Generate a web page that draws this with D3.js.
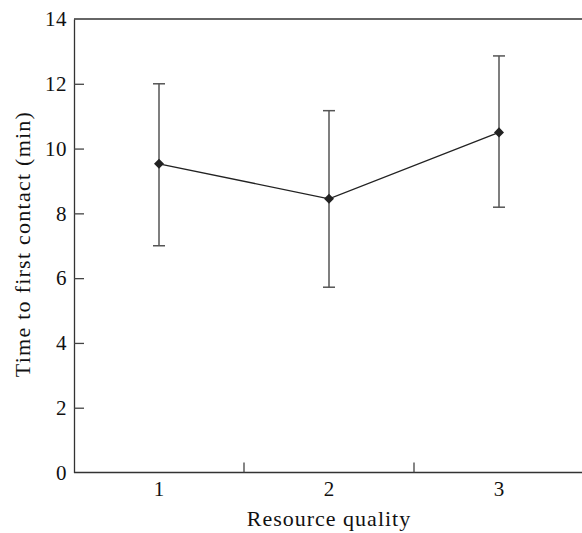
<!DOCTYPE html>
<html><head><meta charset="utf-8">
<script src="https://cdn.jsdelivr.net/npm/d3@7"></script>
<style>body{margin:0;background:#fff}</style>
</head><body>
<svg id="c" width="582" height="533"></svg>
<script>
const categories = ["1", "2", "3"];
const means = [9.53, 8.45, 10.5];
const upper = [12.0, 11.17, 12.86];
const lower = [7.0, 5.72, 8.19];
const yTicks = [0, 2, 4, 6, 8, 10, 12, 14];
const xLabel = "Resource quality";
const yLabel = "Time to first contact (min)";

const svg = d3.select("#c");
const font = "'Liberation Serif', serif";
const mLeft = 74, mRight = 584, mTop = 19, mBottom = 472.5;
const x = d3.scaleBand().domain(categories).range([mLeft, mRight]);
const y = d3.scaleLinear().domain([0, 14]).range([mBottom, mTop]);

// top border
svg.append("line").attr("x1", mLeft).attr("x2", 582).attr("y1", y(14)).attr("y2", y(14))
  .attr("stroke", "#333").attr("stroke-width", 1.3);

// y axis
const ya = svg.append("g").attr("transform", `translate(${mLeft},0)`)
  .call(d3.axisLeft(y).tickValues(yTicks).tickSizeInner(-10).tickSizeOuter(0).tickPadding(6));
ya.select(".domain").attr("stroke", "#333").attr("stroke-width", 1.3);
ya.selectAll(".tick line").attr("stroke", "#444").attr("stroke-width", 1.3);
ya.selectAll(".tick line").filter(d => d === 14 || d === 0).remove();
ya.selectAll("text").attr("font-family", font).attr("font-size", 21).attr("fill", "#111")
  .attr("x", -7).attr("letter-spacing", 0.5);

// x axis
const xa = svg.append("g").attr("transform", `translate(0,${mBottom})`)
  .call(d3.axisBottom(x).tickSize(0).tickPadding(9));
xa.select(".domain").attr("stroke", "#333").attr("stroke-width", 1.3)
  .attr("d", `M${mLeft},0H582`);
xa.selectAll("text").attr("font-family", font).attr("font-size", 21).attr("fill", "#111");
// band boundary ticks
categories.slice(1).forEach(c => {
  xa.append("line").attr("x1", x(c)).attr("x2", x(c)).attr("y1", 0).attr("y2", -10)
    .attr("stroke", "#444").attr("stroke-width", 1.3);
});

const cx = c => x(c) + x.bandwidth() / 2;

// error bars
const eb = svg.append("g").attr("stroke", "#555").attr("stroke-width", 1.5);
categories.forEach((c, i) => {
  eb.append("line").attr("x1", cx(c)).attr("x2", cx(c)).attr("y1", y(upper[i])).attr("y2", y(lower[i]));
  [upper[i], lower[i]].forEach(v => {
    eb.append("line").attr("x1", cx(c) - 6).attr("x2", cx(c) + 6).attr("y1", y(v)).attr("y2", y(v));
  });
});

// line
svg.append("path").datum(means)
  .attr("d", d3.line().x((d, i) => cx(categories[i])).y(d => y(d)))
  .attr("fill", "none").attr("stroke", "#222").attr("stroke-width", 1.3);

// markers
svg.append("g").selectAll("path").data(means).join("path")
  .attr("d", d3.symbol(d3.symbolDiamond2, 64))
  .attr("transform", (d, i) => `translate(${cx(categories[i])},${y(d)})`)
  .attr("fill", "#222");

// labels
svg.append("text").attr("x", 329).attr("y", 526)
  .attr("text-anchor", "middle").attr("font-family", font).attr("font-size", 22)
  .attr("letter-spacing", 1.0).attr("fill", "#111").text(xLabel);
svg.append("text").attr("transform", `translate(30,244) rotate(-90)`)
  .attr("text-anchor", "middle").attr("font-family", font).attr("font-size", 22)
  .attr("letter-spacing", 1.25).attr("fill", "#111").text(yLabel);
</script>
</body></html>
